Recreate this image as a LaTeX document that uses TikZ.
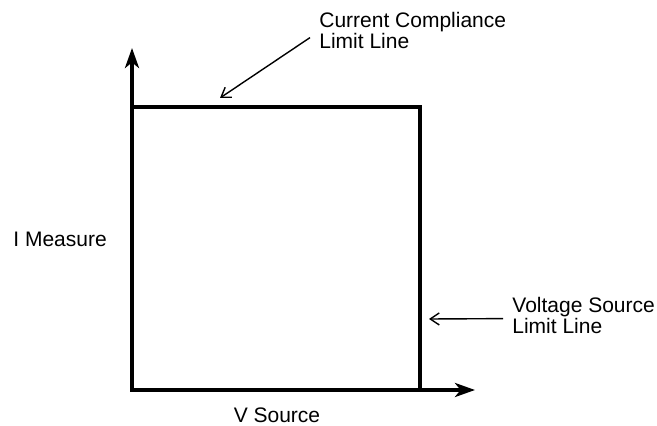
\documentclass[tikz,border=0pt]{standalone}
\usepackage{fontspec}
\setmainfont{Liberation Sans}
\usetikzlibrary{arrows.meta,calc}
\tikzset{>={Stealth[length=10pt,width=7pt,inset=2.8pt]}}
\tikzset{
  AxisLine/.style={line width=2.1pt, ->},
  LimitLine/.style={line width=1.6pt},
  Leader/.style={line width=0.7pt, -{Straight Barb[length=4.5pt,width=6pt]}},
  Label/.style={inner sep=0pt, align=left, font=\fontsize{10.5}{10.5}\selectfont}
}

\begin{document}
\begin{tikzpicture}[x=0.5pt,y=-0.5pt]
    \path[use as bounding box] (0,0) rectangle (657,426);
    \coordinate (O) at (132,390);
    \coordinate (Ytip) at (132,48);
    \coordinate (Xtip) at (475,390);
    \coordinate (C) at (420,107);
    % limit box
    \draw[LimitLine] (O |- C) -- (C) -- (C |- O);
    % axes
    \draw[AxisLine] (O) -- (Ytip);
    \draw[AxisLine] ($(O)+(-2,0)$) -- (Xtip);

    \node[Label, anchor=north west] (ccl) at (319,12) {Current Compliance\\Limit Line};
    \node[Label, anchor=north west] (vsl) at (512,297) {Voltage Source\\Limit Line};
    \node[Label, anchor=base west] (imeas) at (13,247) {I Measure};
    \node[Label, anchor=base] (vsrc) at (277,422) {V Source};

    \coordinate (cclStart) at ($(ccl.west)+(-9,7)$);
    \coordinate (cclEnd) at (220,98);
    \coordinate (vslStart) at ($(vsl.west)+(-9,3)$);
    \coordinate (vslEnd) at (429,319);
    \draw[Leader] (cclStart) -- (cclEnd);
    \draw[Leader] (vslStart) -- (vslEnd);
\end{tikzpicture}
\end{document}
